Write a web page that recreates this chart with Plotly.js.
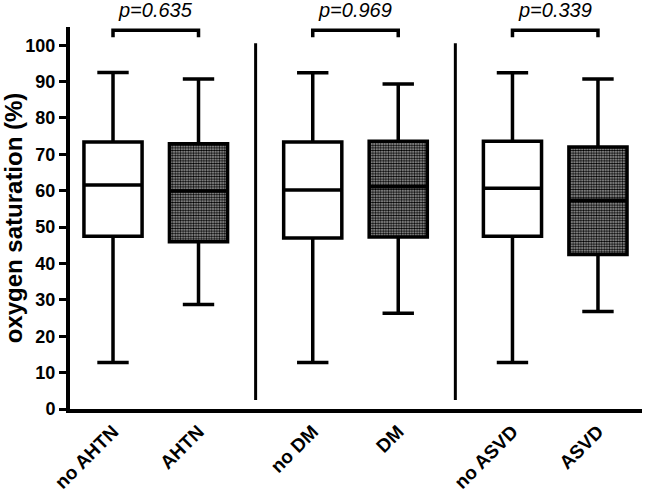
<!DOCTYPE html>
<html>
<head>
<meta charset="utf-8">
<script src="https://cdn.plot.ly/plotly-3.0.1.min.js"></script>
<style>html,body{margin:0;padding:0;background:#fff;}#chart{width:645px;height:492px;}</style>
</head>
<body>
<div id="chart"></div>
<script>
// ---- data ----
var labels      = ["no AHTN", "AHTN", "no DM", "DM", "no ASVD", "ASVD"];
var upperFence  = [92.5, 90.7, 92.4, 89.3, 92.4, 90.7];
var q3Values    = [73.4, 72.9, 73.4, 73.6, 73.6, 72.0];
var medians     = [61.6, 59.9, 60.2, 61.1, 60.7, 57.4];
var q1Values    = [47.5, 46.0, 47.0, 47.3, 47.5, 42.5];
var lowerFence  = [12.8, 28.7, 12.8, 26.3, 12.8, 26.8];
var pValues     = ["p=0.635", "p=0.969", "p=0.339"];

// ---- layout helpers ----
var groupStep = 2.336, boxWidth = 0.68, yMax = 105;
var pos = labels.map(function(_, i){ return Math.floor(i/2)*groupStep + (i%2); });
function pick(arr, parity){ return arr.filter(function(_, i){ return i%2 === parity; }); }

var font = "Arial, 'Liberation Sans', sans-serif";
var traces = [];

// pattern fill for the "yes" boxes (drawn beneath the box outlines)
traces.push({
  type: "bar",
  x: pick(pos, 1),
  base: pick(q1Values, 1),
  y: pick(q3Values, 1).map(function(v, k){ return v - pick(q1Values, 1)[k]; }),
  width: boxWidth,
  marker: {color: "#777", line: {width: 0},
           pattern: {shape: ".", size: 2.6, solidity: 0.6, fgcolor: "#000", bgcolor: "#b4b4b4", fillmode: "replace"}},
  hoverinfo: "skip", showlegend: false
});

[0, 1].forEach(function(parity){
  traces.push({
    type: "box",
    x: pick(pos, parity),
    q1: pick(q1Values, parity),
    median: pick(medians, parity),
    q3: pick(q3Values, parity),
    lowerfence: pick(lowerFence, parity),
    upperfence: pick(upperFence, parity),
    width: boxWidth,
    whiskerwidth: 0.54,
    boxpoints: false,
    fillcolor: parity === 0 ? "#ffffff" : "rgba(0,0,0,0)",
    line: {color: "#000", width: 3.5},
    showlegend: false
  });
});

var shapes = [], annotations = [];
for (var g = 0; g < pValues.length; g++) {
  var a = pos[2*g], b = pos[2*g+1];
  var yTop = 104.1, yLeg = 102.2;
  shapes.push({type: "path", xref: "x", yref: "y",
    path: "M" + a + "," + yLeg + " L" + a + "," + yTop + " L" + b + "," + yTop + " L" + b + "," + yLeg,
    line: {color: "#000", width: 3.5}});
  annotations.push({x: (a+b)/2, y: 109.8 / yMax, xref: "x", yref: "paper", text: "<i>" + pValues[g] + "</i>",
    showarrow: false, yanchor: "middle", font: {family: font, size: 20, color: "#000"}});
  if (g > 0) {
    var sx = (pos[2*g-1] + pos[2*g]) / 2;
    shapes.push({type: "line", xref: "x", yref: "y", x0: sx, x1: sx, y0: 2.5, y1: 100.5,
      line: {color: "#000", width: 3}});
  }
}

var layout = {
  width: 645, height: 492,
  margin: {l: 70, r: 3, t: 27, b: 83},
  paper_bgcolor: "#fff", plot_bgcolor: "#fff",
  barmode: "overlay",
  showlegend: false,
  xaxis: {
    range: [-0.503, 6.187],
    tickvals: pos, ticktext: labels, tickangle: -45,
    ticks: "", showgrid: false, zeroline: false,
    showline: true, linecolor: "#000", linewidth: 4,
    tickfont: {family: font, size: 19, color: "#000", weight: "bold"}
  },
  yaxis: {
    range: [0, yMax],
    tickvals: [0,10,20,30,40,50,60,70,80,90,100],
    ticks: "outside", ticklen: 7, tickwidth: 3, tickcolor: "#000",
    showgrid: false, zeroline: false,
    showline: true, linecolor: "#000", linewidth: 4,
    tickfont: {family: font, size: 18, color: "#000", weight: "bold"},
    title: {text: "oxygen saturation (%)", font: {family: font, size: 24, color: "#000", weight: "bold"}, standoff: 6}
  },
  shapes: shapes,
  annotations: annotations
};

Plotly.newPlot("chart", traces, layout, {displayModeBar: false, staticPlot: true});
</script>
</body>
</html>
